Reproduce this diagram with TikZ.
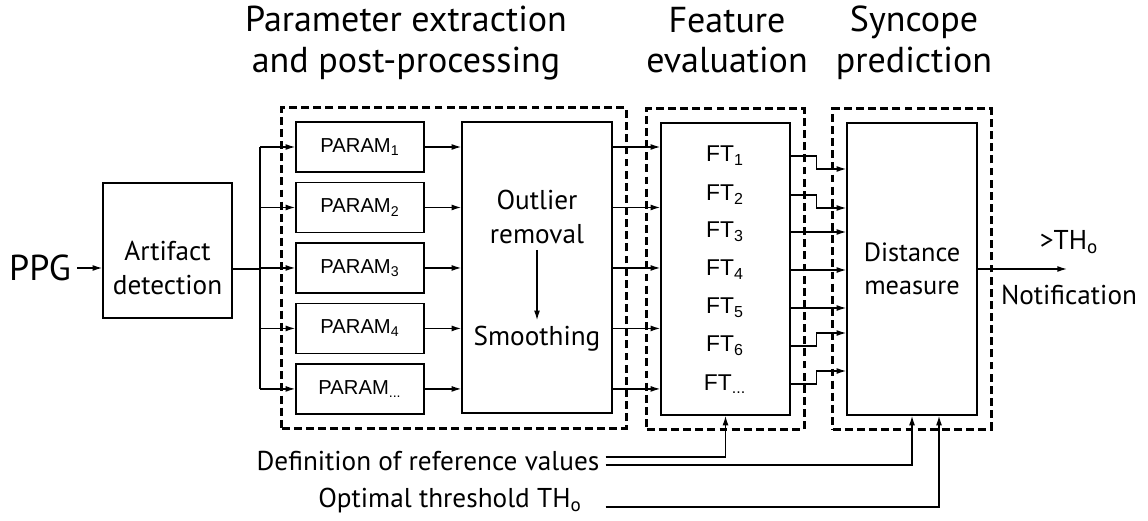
\documentclass[tikz,border=0pt]{standalone}
\usepackage{fontspec}
\setmainfont{PT Sans}
\newfontfamily\arialfont{Liberation Sans}
\usepackage{tikz}
\usetikzlibrary{arrows.meta, positioning, fit, calc}

\begin{document}
\begin{tikzpicture}[x=0.02cm, y=-0.02cm,
        block/.style={rectangle, draw, line width=0.85pt, align=center, font=\fontsize{15}{19}\selectfont},
        parblock/.style={rectangle, draw, line width=0.85pt, minimum width=2.56cm, minimum height=1cm, font=\arialfont\fontsize{11.5}{13}\selectfont},
        ftlabel/.style={font=\arialfont\fontsize{13}{15}\selectfont},
        stage/.style={draw, line width=1.7pt, dash pattern=on 4.5pt off 2.4pt, inner sep=0.27cm},
        title/.style={align=center, font=\fontsize{20.5}{23.2}\selectfont},
        txt/.style={align=center, font=\fontsize{15.5}{19}\selectfont},
        arrow/.style={-{Latex[length=5.5pt, width=3.4pt]}, line width=0.75pt},
        wire/.style={line width=0.75pt}]

        \useasboundingbox (0,0) rectangle (1148,520);

        % Nodes
        \node[txt, font=\fontsize{20.5}{24}\selectfont] (ppg) at (40,268) {PPG};
        \node[block, minimum width=2.58cm, minimum height=2.7cm] (artifact) at (167.5,250.5) {};
        \node[txt] (artifacttext) at (167.5,268) {Artifact\\detection};

        \node[parblock] (p1) at (360,147) {PARAM\textsubscript{1}};
        \node[parblock, below=0.18cm of p1] (p2) {PARAM\textsubscript{2}};
        \node[parblock, below=0.18cm of p2] (p3) {PARAM\textsubscript{3}};
        \node[parblock, below=0.18cm of p3] (p4) {PARAM\textsubscript{4}};
        \node[parblock, below=0.18cm of p4] (p5) {PARAM\textsubscript{...}};

        \node[block, minimum width=3cm, minimum height=5.82cm] (outlier) at (537,267.5) {};
        \node[txt] (removal) at (537,217) {Outlier\\removal};
        \node[txt] (smoothing) at (537,339) {Smoothing};

        \node[block, minimum width=2.58cm, minimum height=5.84cm] (ftbox) at (725.5,269) {};
        \node[ftlabel] (ft1) at (725,156) {FT\textsubscript{1}};
        \node[ftlabel] (ft2) at (725,195) {FT\textsubscript{2}};
        \node[ftlabel] (ft3) at (725,232) {FT\textsubscript{3}};
        \node[ftlabel] (ft4) at (725,270) {FT\textsubscript{4}};
        \node[ftlabel] (ft5) at (725,308) {FT\textsubscript{5}};
        \node[ftlabel] (ft6) at (725,346) {FT\textsubscript{6}};
        \node[ftlabel] (ft7) at (725,384) {FT\textsubscript{...}};

        \node[block, minimum width=2.6cm, minimum height=5.84cm] (distance) at (912,269) {Distance\\measure};

        % Stages (dashed frames)
        \node[stage, fit=(p1)(p5)(outlier)] (stage1) {};
        \node[stage, fit=(ftbox)] (stage2) {};
        \node[stage, fit=(distance)] (stage3) {};

        \node[title] (t1) at (406,43) {Parameter extraction\\and post-processing};
        \node[title] (t2) at (727,40) {Feature\\evaluation};
        \node[title] (t3) at (914,43) {Syncope\\prediction};

        % Inputs and output
        \node[txt] (refvalues) at (428,461) {Definition of reference values};
        \node[txt] (threshold) at (450,501) {Optimal threshold TH\textsubscript{o}};
        \coordinate (notify) at (1067,269);
        \node[txt] (over) at (1069,242) {>TH\textsubscript{o}};
        \node[txt] (notification) at (1069,295) {Notification};

        % Arrows
        \draw[arrow] (ppg.east) -- (ppg.east -| artifact.west);
        \coordinate (split) at (260,269);
        \draw[wire] (split -| artifact.east) -- (split);
        \draw[wire] (split |- p1) -- (split |- p5);
        \foreach \i in {1,...,5} {
            \draw[arrow] (split |- p\i) -- (p\i.west);
            \draw[arrow] (p\i.east) -- (p\i -| outlier.west);
            \draw[arrow] (p\i -| outlier.east) -- (p\i -| ftbox.west);
        }
        \draw[arrow] (removal) -- (smoothing);

        \foreach \i/\dy in {1/13, 2/13, 3/0, 4/0, 5/0, 6/-13, 7/-13}
            \draw[arrow] (ft\i -| ftbox.east) -- ++(26,0) -- ++(0,\dy) coordinate (bend) -- (bend -| distance.west);

        \draw[arrow] (distance.east) -- (notify);

        \draw[arrow] ([yshift=2.3pt]refvalues.east) -| (ftbox.south);
        \draw[arrow] ([yshift=-2.3pt]refvalues.east) -| (distance.south);
        \draw[arrow] ($(threshold.east -| refvalues.east) + (0,6)$) -| ([xshift=0.54cm]distance.south);

    \end{tikzpicture}
\end{document}
